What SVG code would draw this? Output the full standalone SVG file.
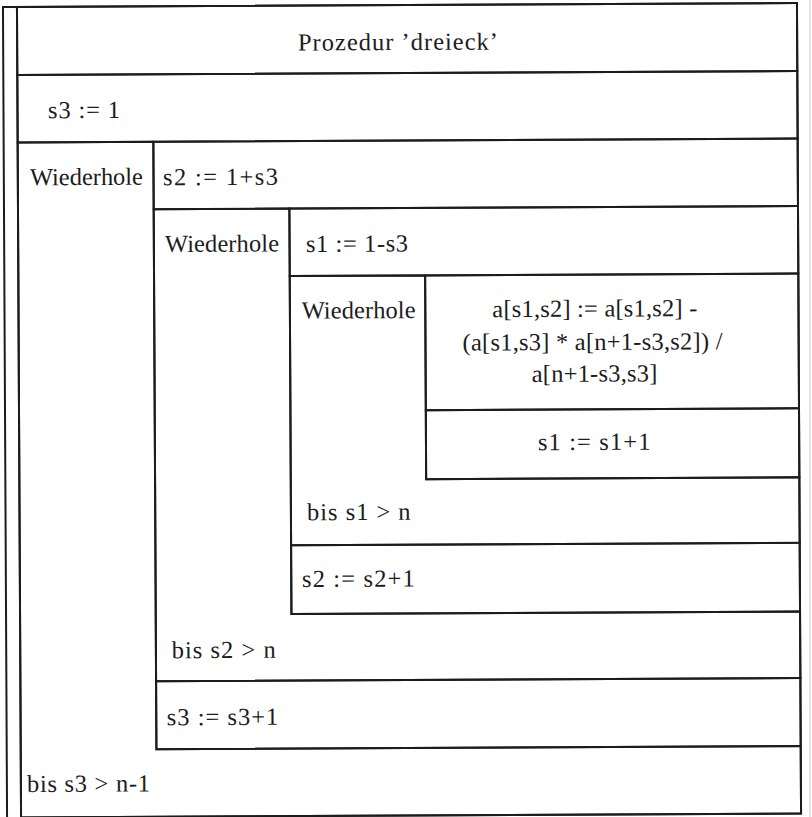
<svg xmlns="http://www.w3.org/2000/svg" width="812" height="817" viewBox="0 0 812 817">
<style>
.c{fill:none;stroke:#1c1c1c;stroke-width:2;stroke-linejoin:miter}
.t{font-family:"Liberation Serif","Times New Roman",serif;font-size:24.5px;fill:#1c1c1c}
.m{text-anchor:middle}
</style>
<rect x="0" y="0" width="812" height="817" fill="#ffffff"/>
<line x1="810" y1="0" x2="810" y2="817" stroke="#dcdcdc" stroke-width="1.5"/>
<g transform="rotate(-0.29 406 408)">
<g id="frame">
<path class="c" d="M5 820 V5 H19" stroke-width="1.8"/>
<rect class="c" x="19" y="5" width="780" height="810.5" stroke-width="2.4"/>
</g>
<g id="header">
<rect class="c" x="19" y="5" width="780" height="68"/>
<text class="t m" x="399.8" y="50" textLength="200" lengthAdjust="spacing">Prozedur ’dreieck’</text>
</g>
<g id="init-s3">
<rect class="c" x="19" y="73" width="780" height="67.5"/>
<text class="t" x="49.5" y="116.4" textLength="72" lengthAdjust="spacing">s3 := 1</text>
</g>
<g id="loop-s3">
<path class="c" d="M19 140.5 H154.7 V748 H799 V815.5 H19 Z"/>
<text class="t" x="31.1" y="183.4" textLength="113" lengthAdjust="spacing">Wiederhole</text>
<text class="t" x="25.1" y="790.1" textLength="123" lengthAdjust="spacing">bis s3 &gt; n-1</text>
</g>
<g id="init-s2">
<rect class="c" x="154.7" y="140.5" width="644.3" height="67.5"/>
<text class="t" x="164.1" y="184.1" textLength="115" lengthAdjust="spacing">s2 := 1+s3</text>
</g>
<g id="loop-s2">
<path class="c" d="M154.7 208 H290.4 V613.5 H799 V680 H154.7 Z"/>
<text class="t" x="165.8" y="250.8" textLength="114" lengthAdjust="spacing">Wiederhole</text>
<text class="t" x="170.5" y="657.1" textLength="104" lengthAdjust="spacing">bis s2 &gt; n</text>
</g>
<g id="inc-s3">
<rect class="c" x="154.7" y="680" width="644.3" height="68"/>
<text class="t" x="165.1" y="724.1" textLength="111.6" lengthAdjust="spacing">s3 := s3+1</text>
</g>
<g id="init-s1">
<rect class="c" x="290.4" y="208" width="508.6" height="67.5"/>
<text class="t" x="306.8" y="251.5" textLength="102" lengthAdjust="spacing">s1 := 1-s3</text>
</g>
<g id="loop-s1">
<path class="c" d="M290.4 275.5 H425.8 V479.3 H799 V544.7 H290.4 Z"/>
<text class="t" x="302.1" y="318.1" textLength="114" lengthAdjust="spacing">Wiederhole</text>
<text class="t" x="306.5" y="519.8" textLength="103.5" lengthAdjust="spacing">bis s1 &gt; n</text>
</g>
<g id="inc-s2">
<rect class="c" x="290.4" y="544.7" width="508.6" height="68.8"/>
<text class="t" x="301.2" y="586.5" textLength="112.6" lengthAdjust="spacing">s2 := s2+1</text>
</g>
<g id="update-a">
<rect class="c" x="425.8" y="275.5" width="373.2" height="134.8"/>
<text class="t m" x="595.3" y="317.6" textLength="205" lengthAdjust="spacing">a[s1,s2] := a[s1,s2] -</text>
<text class="t m" x="592.8" y="350.9" textLength="260" lengthAdjust="spacing">(a[s1,s3] * a[n+1-s3,s2]) /</text>
<text class="t m" x="594.7" y="382.6" textLength="125.5" lengthAdjust="spacing">a[n+1-s3,s3]</text>
</g>
<g id="inc-s1">
<rect class="c" x="425.8" y="410.3" width="373.2" height="69"/>
<text class="t m" x="594" y="450.9" textLength="112.6" lengthAdjust="spacing">s1 := s1+1</text>
</g>
<g id="connectors"></g>
</g>
</svg>
